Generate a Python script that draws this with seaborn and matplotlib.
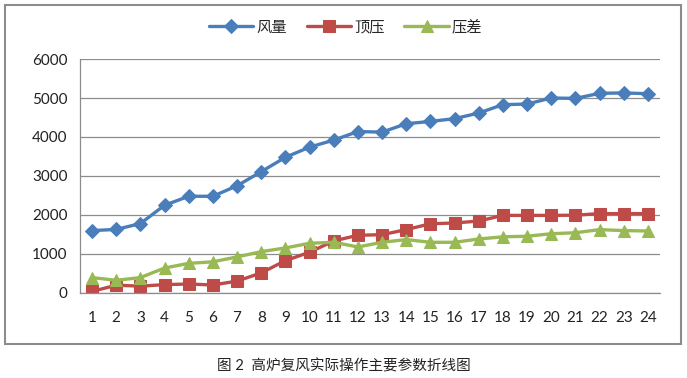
import matplotlib
matplotlib.use("Agg")
import numpy as np
import pandas as pd
import seaborn as sns
import matplotlib.pyplot as plt
from matplotlib.patches import Rectangle
from matplotlib.ticker import FixedLocator

# ------ 数据 ------ #
hours = list(range(1, 25))
wind = [1600, 1630, 1780, 2250, 2480, 2480, 2750, 3110, 3480, 3740, 3920, 4140,
        4125, 4340, 4400, 4470, 4615, 4830, 4845, 5000, 4990, 5120, 5130, 5110]
top_press = [40, 200, 175, 215, 230, 205, 305, 515, 830, 1045, 1335, 1480,
             1495, 1625, 1775, 1795, 1845, 1990, 1990, 1990, 1995, 2035, 2035, 2035]
diff_press = [395, 325, 395, 640, 760, 800, 925, 1060, 1155, 1275, 1300, 1180,
              1300, 1370, 1300, 1300, 1385, 1440, 1455, 1520, 1545, 1625, 1600, 1590]
names = ["风量", "顶压", "压差"]

sns.set_theme(style="white")
plt.rcParams['font.family'] = ['Lato', 'Noto Sans CJK SC', 'DejaVu Sans']

fig = plt.figure(figsize=(6.87, 3.78), dpi=100)
ax = fig.add_axes([0.1164, 0.2249, 0.8443, 0.619])

# ------ 外框 ------ #
fig.patches.append(Rectangle((5 / 687, 1 - 344 / 378), 676 / 687, 339 / 378,
                             transform=fig.transFigure, fill=False,
                             edgecolor="#8c8c8c", linewidth=1.5, zorder=0))

colors = ["#4A7EBB", "#BE4B48", "#98B954"]
markers = ["D", "s", "^"]
msizes = [7, 8.5, 8.5]
for vals, name, c, m, ms in zip([wind, top_press, diff_press], names, colors, markers, msizes):
    sns.lineplot(x=hours, y=vals, ax=ax, color=c, marker=m, markersize=ms,
                 markeredgecolor=c, linewidth=2.4, label=name)

ax.set_xlim(0.5, 24.5)
ax.set_ylim(0, 6000)
ax.set_yticks(np.arange(0, 6001, 1000))
ax.set_xticks(hours)
ax.set_xticklabels([str(h) for h in hours])
ax.xaxis.set_minor_locator(FixedLocator(np.arange(0.5, 25, 1)))
ax.tick_params(axis="x", which="major", length=0, labelsize=11, pad=13, colors="#222222")
ax.tick_params(axis="x", which="minor", length=5, width=0.8, color="#808080", direction="out")
ax.tick_params(axis="y", which="major", length=5, width=0.8, color="#808080",
               direction="out", labelsize=11, pad=4, labelcolor="#222222")
ax.grid(axis="y", color="#8c8c8c", linewidth=0.9)
ax.set_axisbelow(True)
for s in ["top", "right"]:
    ax.spines[s].set_visible(False)
for s in ["left", "bottom"]:
    ax.spines[s].set_color("#8c8c8c")
    ax.spines[s].set_linewidth(0.9)

handles, labels = ax.get_legend_handles_labels()
ax.get_legend().remove()
fig.legend(handles, labels, loc="center", bbox_to_anchor=(0.503, 1 - 27 / 378), ncol=3,
           frameon=False, fontsize=11, handlelength=2.9, handletextpad=0.2,
           columnspacing=1.3)

fig.text(0.5, 1 - 366 / 378, "图 2  高炉复风实际操作主要参数折线图", ha="center",
         va="center", fontsize=10.5, color="#222222")

plt.savefig("out.png", dpi=100)
